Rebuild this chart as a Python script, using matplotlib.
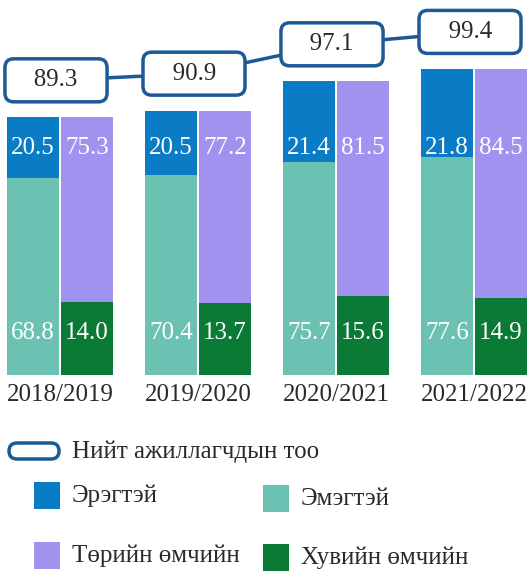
import numpy as np
import matplotlib.pyplot as plt
from matplotlib.patches import Rectangle, FancyBboxPatch
from matplotlib.transforms import Affine2D, ScaledTranslation, blended_transform_factory

# data
years = ['2018/2019', '2019/2020', '2020/2021', '2021/2022']
total = [89.3, 90.9, 97.1, 99.4]
male = [20.5, 20.5, 21.4, 21.8]
female = [68.8, 70.4, 75.7, 77.6]
state = [75.3, 77.2, 81.5, 84.5]
private = [14.0, 13.7, 15.6, 14.9]

c_male = '#0a7cc6'
c_female = '#6cc2b2'
c_state = '#a192f0'
c_private = '#0a7a36'
c_navy = '#1c5a96'
c_text = '#2a2a2a'

plt.rcParams['font.family'] = ['Liberation Serif', 'DejaVu Serif']

W, H = 529, 572
fig = plt.figure(figsize=(W / 100, H / 100), dpi=100)
ax = fig.add_axes([0, 1 - 375 / H, 1, 375 / H])


# the infographic stretches the small segments, so use a cubic value scale
def fwd(v):
    v = np.asarray(v, dtype=float)
    return 1.62 * v + 5.87e-4 * (v - 52) ** 3


grid = np.linspace(-200, 300, 50001)


def inv(y):
    return np.interp(y, fwd(grid), grid)


ax.set_yscale('function', functions=(fwd, inv))
ax.set_ylim(0, float(inv(fwd(0) + 375)))

x = np.arange(len(years))
w = 0.381
gap = 0.008
xl = x - (w + gap) / 2
xr = x + (w + gap) / 2

ax.bar(xl, female, w, color=c_female, lw=0)
ax.bar(xl, male, w, bottom=female, color=c_male, lw=0)
ax.bar(xr, private, w, color=c_private, lw=0)
ax.bar(xr, state, w, bottom=private, color=c_state, lw=0)

ax.set_xlim(-60 / 138, (529 - 60) / 138)

# segment labels
tb = blended_transform_factory(ax.transData, ax.transAxes)
for i in range(len(years)):
    for xx, val, yy in [(xl[i], male[i], 0.605), (xr[i], state[i], 0.605),
                        (xl[i], female[i], 0.112), (xr[i], private[i], 0.112)]:
        ax.text(xx, yy, f'{val:.1f}', transform=tb, ha='center', va='center',
                color='white', fontsize=18)

# total line with boxed labels
off = ScaledTranslation(-0.04, 0.37, fig.dpi_scale_trans)
ax.plot(x, total, color=c_navy, lw=2.5, transform=ax.transData + off,
        clip_on=False, zorder=3)
for xi, t in zip(x, total):
    ax.annotate(f'   {t:.1f}   ', xy=(xi, t), xytext=(-4, 37),
                textcoords='offset pixels', ha='center', va='center',
                fontsize=18, color=c_text, zorder=4, annotation_clip=False,
                bbox=dict(boxstyle='round,pad=0.42,rounding_size=0.35',
                          fc='white', ec=c_navy, lw=2.5))

ax.set_xticks(x)
ax.set_xticklabels(years, fontsize=18, color=c_text)
ax.tick_params(axis='x', length=0, pad=6.5)
ax.tick_params(axis='y', left=False, labelleft=False)
ax.minorticks_off()
for s in ax.spines.values():
    s.set_visible(False)

# legend drawn in pixel coordinates (top-left origin)
tpx = Affine2D().scale(1 / W, -1 / H).translate(0, 1) + fig.transFigure
fig.patches.append(FancyBboxPatch((9, 443), 50, 16,
                                  boxstyle='round,pad=0,rounding_size=8',
                                  fc='white', ec=c_navy, lw=2.5,
                                  transform=tpx, figure=fig))
fig.text(72, 452, 'Нийт ажиллагчдын тоо', transform=tpx, fontsize=18,
         color=c_text, va='center')

legend_items = [(34, 482, c_male, 'Эрэгтэй'), (263, 485, c_female, 'Эмэгтэй'),
                (34, 542, c_state, 'Төрийн өмчийн'), (263, 544, c_private, 'Хувийн өмчийн')]
for px, py, col, lab in legend_items:
    fig.patches.append(Rectangle((px, py), 26, 27, fc=col, ec='none',
                                 transform=tpx, figure=fig))
    fig.text(px + 38, py + 14, lab, transform=tpx, fontsize=18,
             color=c_text, va='center')

fig.savefig('out.png', dpi=100)
